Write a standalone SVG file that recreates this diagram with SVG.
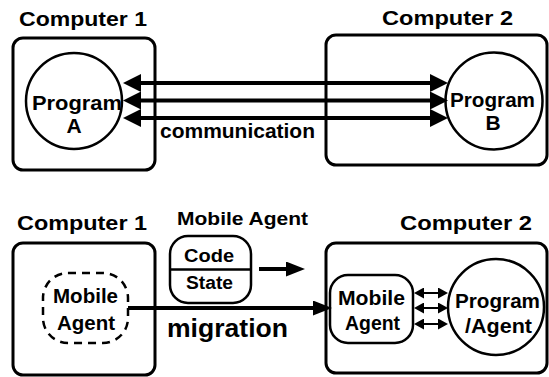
<svg xmlns="http://www.w3.org/2000/svg" width="549" height="377" viewBox="0 0 549 377">
  <style>
    text { font-family: "Liberation Sans", Arial, sans-serif; font-weight: bold; fill: #000; }
    .host { fill: #fff; stroke: #000; stroke-width: 3; }
    .shape { fill: #fff; stroke: #000; stroke-width: 2.5; }
    .dashed { fill: none; stroke: #000; stroke-width: 2.5; stroke-dasharray: 8 6; }
    .wire { stroke: #000; stroke-width: 4; fill: none; }
    .thin { stroke: #000; stroke-width: 2; fill: none; }
    .lbl { font-size: 20.5px; }
    .in { font-size: 21px; }
  </style>
  <defs>
    <marker id="head" viewBox="0 0 18 18" refX="0" refY="9" markerWidth="18" markerHeight="18" markerUnits="userSpaceOnUse" orient="auto-start-reverse">
      <path d="M0,0 L18,9 L0,18 z" fill="#000"/>
    </marker>
    <marker id="headMid" viewBox="0 0 19 15" refX="0" refY="7.5" markerWidth="19" markerHeight="15" markerUnits="userSpaceOnUse" orient="auto-start-reverse">
      <path d="M0,0 L19,7.5 L0,15 z" fill="#000"/>
    </marker>
    <marker id="headSmall" viewBox="0 0 10 11" refX="0" refY="5.5" markerWidth="10" markerHeight="11" markerUnits="userSpaceOnUse" orient="auto-start-reverse">
      <path d="M0,0 L10,5.5 L0,11 z" fill="#000"/>
    </marker>
  </defs>

  <!-- Upper scene: message passing between two programs -->
  <g id="top-computer1">
    <text class="lbl" x="19" y="26" textLength="128" lengthAdjust="spacingAndGlyphs">Computer 1</text>
    <rect class="host" x="13" y="38" width="142" height="132" rx="10"/>
  </g>
  <g id="top-computer2">
    <text class="lbl" x="382" y="25" textLength="131" lengthAdjust="spacingAndGlyphs">Computer 2</text>
    <rect class="host" x="326" y="35" width="221" height="130" rx="10"/>
  </g>
  <g id="program-a">
    <circle class="shape" cx="74" cy="101" r="48"/>
    <text class="in" x="32" y="110" textLength="90" lengthAdjust="spacingAndGlyphs">Program</text>
    <text class="in" x="74" y="133" text-anchor="middle">A</text>
  </g>
  <g id="program-b">
    <circle class="shape" cx="494" cy="101" r="48.5"/>
    <text class="in" x="450" y="107" textLength="85" lengthAdjust="spacingAndGlyphs">Program</text>
    <text class="in" x="493" y="130" text-anchor="middle">B</text>
  </g>

  <!-- Lower scene: agent migrating to the remote host -->
  <g id="bottom-computer1">
    <text class="lbl" x="17" y="230" textLength="130" lengthAdjust="spacingAndGlyphs">Computer 1</text>
    <rect class="host" x="13" y="243" width="142" height="132" rx="10"/>
  </g>
  <g id="bottom-computer2">
    <text class="lbl" x="400" y="230" textLength="132" lengthAdjust="spacingAndGlyphs">Computer 2</text>
    <rect class="host" x="326" y="243" width="221" height="130" rx="10"/>
  </g>
  <g id="mobile-agent-source">
    <rect class="dashed" x="43" y="273" width="85" height="70" rx="25"/>
    <text class="in" x="53" y="303" textLength="65" lengthAdjust="spacingAndGlyphs">Mobile</text>
    <text class="in" x="57" y="330" textLength="58" lengthAdjust="spacingAndGlyphs">Agent</text>
  </g>
  <g id="mobile-agent-package">
    <text style="font-size:19px" x="177" y="225" textLength="131" lengthAdjust="spacingAndGlyphs">Mobile Agent</text>
    <rect class="shape" x="170" y="236" width="81" height="67" rx="18"/>
    <line x1="170" y1="269.5" x2="251" y2="269.5" stroke="#000" stroke-width="2.5"/>
    <text style="font-size:18px" x="184" y="262" textLength="50" lengthAdjust="spacingAndGlyphs">Code</text>
    <text style="font-size:18px" x="186" y="289" textLength="47" lengthAdjust="spacingAndGlyphs">State</text>
  </g>
  <g id="mobile-agent-target">
    <rect class="shape" x="330" y="275" width="83" height="68" rx="18"/>
    <text class="in" x="338" y="305" textLength="67" lengthAdjust="spacingAndGlyphs">Mobile</text>
    <text class="in" x="345" y="330" textLength="55" lengthAdjust="spacingAndGlyphs">Agent</text>
  </g>
  <g id="program-agent">
    <circle class="shape" cx="496" cy="307" r="48"/>
    <text class="in" x="455" y="308" textLength="85" lengthAdjust="spacingAndGlyphs">Program</text>
    <text class="in" x="465" y="333" textLength="67" lengthAdjust="spacingAndGlyphs">/Agent</text>
  </g>

  <!-- Connectors -->
  <g id="connectors">
    <line class="wire" x1="141" y1="83" x2="430" y2="83" marker-start="url(#head)" marker-end="url(#head)"/>
    <line class="wire" x1="141" y1="100.5" x2="430" y2="100.5" marker-start="url(#head)" marker-end="url(#head)"/>
    <line class="wire" x1="141" y1="118" x2="430" y2="118" marker-start="url(#head)" marker-end="url(#head)"/>
    <text style="font-size:21px" x="160" y="138" textLength="155" lengthAdjust="spacingAndGlyphs">communication</text>

    <line class="wire" x1="259" y1="269" x2="286" y2="269" marker-end="url(#headMid)"/>
    <line class="wire" x1="128" y1="308" x2="313" y2="308" marker-end="url(#headMid)"/>
    <text style="font-size:26px" x="167" y="337" textLength="121" lengthAdjust="spacingAndGlyphs">migration</text>

    <line class="thin" x1="424" y1="293" x2="438" y2="293" marker-start="url(#headSmall)" marker-end="url(#headSmall)"/>
    <line class="thin" x1="424" y1="308" x2="438" y2="308" marker-start="url(#headSmall)" marker-end="url(#headSmall)"/>
    <line class="thin" x1="424" y1="324" x2="438" y2="324" marker-start="url(#headSmall)" marker-end="url(#headSmall)"/>
  </g>
</svg>
